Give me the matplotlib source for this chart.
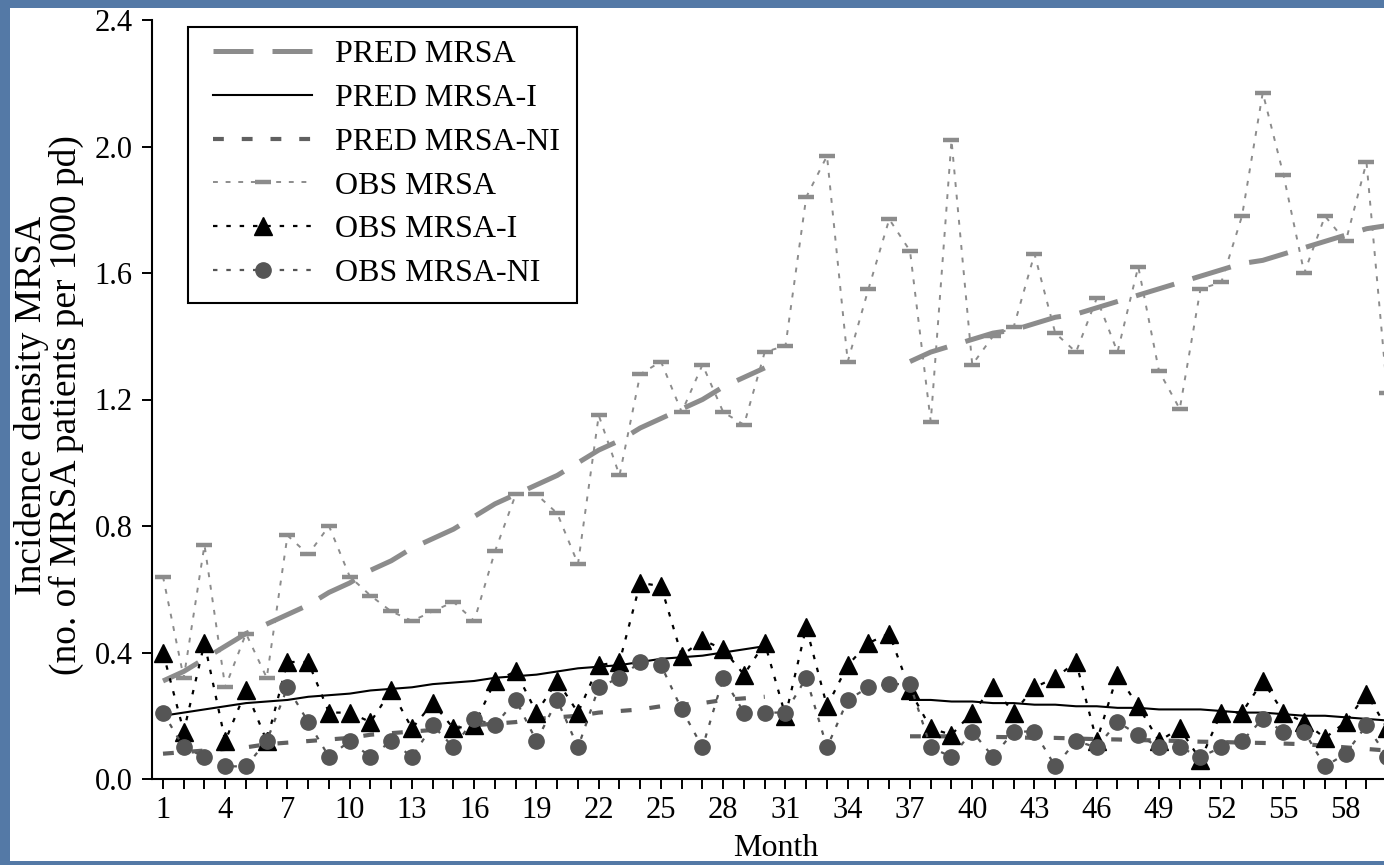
import numpy as np
import matplotlib
matplotlib.use("Agg")
import matplotlib.pyplot as plt
from matplotlib.patches import Rectangle

plt.rcParams['font.family'] = ['Liberation Serif', 'DejaVu Serif']

# =========================================================
# Data
# =========================================================
months = list(range(1, 61))
tick_labels = [str(m) if (m - 1) % 3 == 0 else "" for m in months]
y_ticks = [0.0, 0.4, 0.8, 1.2, 1.6, 2.0, 2.4]

obs_mrsa = [0.64, 0.32, 0.74, 0.29, 0.46, 0.32, 0.77, 0.71, 0.80, 0.64,
            0.58, 0.53, 0.50, 0.53, 0.56, 0.50, 0.72, 0.90, 0.90, 0.84,
            0.68, 1.15, 0.96, 1.28, 1.32, 1.16, 1.31, 1.16, 1.12, 1.35,
            1.37, 1.84, 1.97, 1.32, 1.55, 1.77, 1.67, 1.13, 2.02, 1.31,
            1.40, 1.43, 1.66, 1.41, 1.35, 1.52, 1.35, 1.62, 1.29, 1.17,
            1.55, 1.57, 1.78, 2.17, 1.91, 1.60, 1.78, 1.70, 1.95, 1.22]

obs_mrsa_i = [0.40, 0.15, 0.43, 0.12, 0.28, 0.12, 0.37, 0.37, 0.21, 0.21,
              0.18, 0.28, 0.16, 0.24, 0.16, 0.17, 0.31, 0.34, 0.21, 0.31,
              0.21, 0.36, 0.37, 0.62, 0.61, 0.39, 0.44, 0.41, 0.33, 0.43,
              0.20, 0.48, 0.23, 0.36, 0.43, 0.46, 0.28, 0.16, 0.14, 0.21,
              0.29, 0.21, 0.29, 0.32, 0.37, 0.12, 0.33, 0.23, 0.12, 0.16,
              0.06, 0.21, 0.21, 0.31, 0.21, 0.18, 0.13, 0.18, 0.27, 0.16]

obs_mrsa_ni = [0.21, 0.10, 0.07, 0.04, 0.04, 0.12, 0.29, 0.18, 0.07, 0.12,
               0.07, 0.12, 0.07, 0.17, 0.10, 0.19, 0.17, 0.25, 0.12, 0.25,
               0.10, 0.29, 0.32, 0.37, 0.36, 0.22, 0.10, 0.32, 0.21, 0.21,
               0.21, 0.32, 0.10, 0.25, 0.29, 0.30, 0.30, 0.10, 0.07, 0.15,
               0.07, 0.15, 0.15, 0.04, 0.12, 0.10, 0.18, 0.14, 0.10, 0.10,
               0.07, 0.10, 0.12, 0.19, 0.15, 0.15, 0.04, 0.08, 0.17, 0.07]

# predicted series: no prediction for months 31-36 (gap)
nan = np.nan
pred_mrsa = [0.31, 0.34, 0.38, 0.42, 0.46, 0.49, 0.52, 0.55, 0.59, 0.62,
             0.66, 0.69, 0.73, 0.76, 0.79, 0.83, 0.87, 0.90, 0.93, 0.96,
             1.00, 1.04, 1.07, 1.11, 1.14, 1.17, 1.20, 1.24, 1.27, 1.30,
             nan, nan, nan, nan, nan, nan, 1.32, 1.35, 1.37, 1.39,
             1.41, 1.42, 1.44, 1.46, 1.47, 1.49, 1.51, 1.53, 1.55, 1.57,
             1.59, 1.61, 1.63, 1.64, 1.66, 1.68, 1.70, 1.72, 1.74, 1.75]

pred_mrsa_i = [0.20, 0.21, 0.22, 0.23, 0.24, 0.245, 0.25, 0.26, 0.265, 0.27,
               0.28, 0.285, 0.29, 0.30, 0.305, 0.31, 0.32, 0.325, 0.33, 0.34,
               0.35, 0.355, 0.36, 0.37, 0.38, 0.385, 0.39, 0.40, 0.41, 0.42,
               nan, nan, nan, nan, nan, nan, 0.25, 0.25, 0.245, 0.245,
               0.24, 0.24, 0.235, 0.235, 0.23, 0.23, 0.225, 0.225, 0.22, 0.22,
               0.22, 0.215, 0.21, 0.21, 0.205, 0.20, 0.20, 0.195, 0.19, 0.185]

pred_mrsa_ni = [0.08, 0.085, 0.09, 0.095, 0.10, 0.11, 0.115, 0.12, 0.125, 0.13,
                0.14, 0.145, 0.15, 0.155, 0.16, 0.17, 0.175, 0.18, 0.19, 0.195,
                0.20, 0.21, 0.215, 0.22, 0.23, 0.235, 0.24, 0.25, 0.255, 0.26,
                nan, nan, nan, nan, nan, nan, 0.135, 0.135, 0.135, 0.135,
                0.133, 0.132, 0.13, 0.13, 0.128, 0.126, 0.125, 0.123, 0.122, 0.12,
                0.118, 0.117, 0.115, 0.114, 0.112, 0.11, 0.105, 0.10, 0.095, 0.09]

# =========================================================
# Figure
# =========================================================
W, H = 1384, 865
fig = plt.figure(figsize=(W / 100, H / 100), dpi=100)
fig.patch.set_facecolor('#5479a6')
# white page inside the blue slide border
fig.patches.append(Rectangle((10 / W, 1 - 861 / H), (W - 10) / W, (861 - 8) / H,
                             transform=fig.transFigure, facecolor='white',
                             edgecolor='none', zorder=-10))

# axes run past the right edge of the picture, as in the reference
ax = fig.add_axes([152 / W, 86 / H, 1256 / W, 759 / H])
ax.set_facecolor('none')
ax.set_zorder(1)

ax.plot(months, pred_mrsa, color='#8c8c8c', lw=3.6, ls=(0, (8, 3.8)),
        label='PRED MRSA')
ax.plot(months, pred_mrsa_i, color='black', lw=1.5, ls='-',
        label='PRED MRSA-I')
ax.plot(months, pred_mrsa_ni, color='#606060', lw=3.0, ls=(0, (2.6, 4.3)),
        label='PRED MRSA-NI')
ax.plot(months, obs_mrsa, color='#8c8c8c', lw=1.4, ls=(0, (2.5, 4)),
        marker='_', ms=12, mew=3.2, mec='#8c8c8c', label='OBS MRSA')
ax.plot(months, obs_mrsa_i, color='black', lw=1.6, ls=(0, (2, 4)),
        marker='^', ms=13.5, mfc='black', mec='black', label='OBS MRSA-I')
ax.plot(months, obs_mrsa_ni, color='#555555', lw=1.6, ls=(0, (2, 4)),
        marker='o', ms=11, mfc='#555555', mec='#555555', label='OBS MRSA-NI')

ax.set_xlim(0.47, 61)
ax.set_ylim(0, 2.4)
ax.set_xticks(months)
ax.set_xticklabels(tick_labels)
ax.set_yticks(y_ticks)
ax.set_yticklabels([f"{v:.1f}" for v in y_ticks])
ax.tick_params(axis='both', direction='out', length=7, width=1.4,
               labelsize=22, color='black')
ax.tick_params(axis='x', pad=5)
ax.tick_params(axis='y', pad=7)

for side in ('top', 'right'):
    ax.spines[side].set_visible(False)
for side in ('left', 'bottom'):
    ax.spines[side].set_linewidth(1.5)

ax.set_xlabel('Month', fontsize=23)
ax.xaxis.set_label_coords((776 - 152) / 1256, -(834 - 779) / 759)
ax.xaxis.label.set_va('top')

fig.text(49 / W, 1 - 405 / H,
         'Incidence density MRSA\n(no. of MRSA patients per 1000 pd)',
         rotation=90, ha='center', va='center', multialignment='center',
         fontsize=27, linespacing=1.0)

# legend without its own frame; the box is drawn separately so that the
# padding matches the reference (wide on the sides, tight on top)
leg = ax.legend(loc='upper left', bbox_to_anchor=(213 / W, 1 - 40 / H),
                bbox_transform=fig.transFigure, fontsize=23, frameon=False,
                handlelength=3.1, handletextpad=0.72, borderpad=0,
                labelspacing=0.45, borderaxespad=0, numpoints=1)
fig.patches.append(Rectangle((188 / W, 1 - 303 / H), (577 - 188) / W,
                             (303 - 27) / H, transform=fig.transFigure,
                             facecolor='white', edgecolor='black', lw=1.5,
                             zorder=0.5))

fig.savefig('out.png', dpi=100, facecolor=fig.get_facecolor())
